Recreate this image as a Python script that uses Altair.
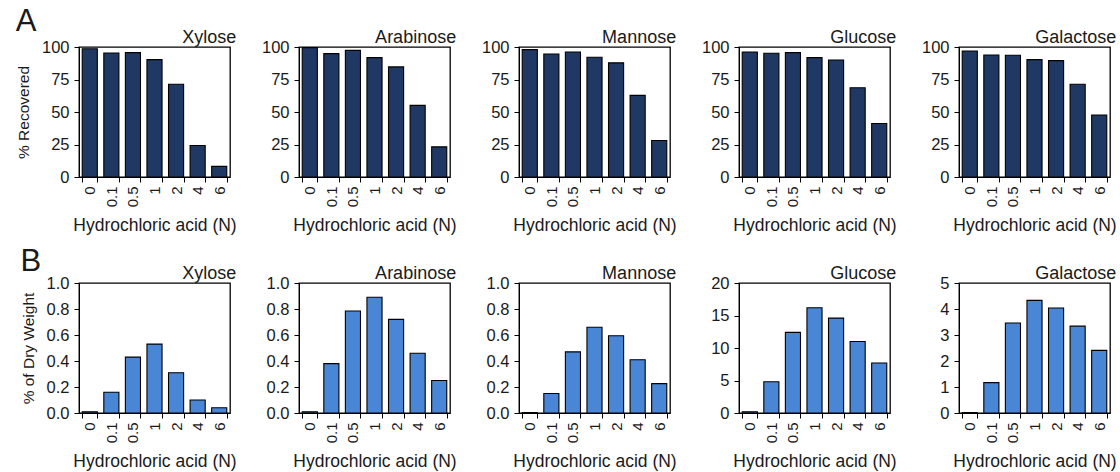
import altair as alt
import pandas as pd

# Hydrochloric acid concentrations (N) used for the hydrolysis series
ACID = ["0", "0.1", "0.5", "1", "2", "4", "6"]
SUGARS = ["Xylose", "Arabinose", "Mannose", "Glucose", "Galactose"]

# Panel A: % of each monosaccharide standard recovered after acid treatment
xylose_rec = [98.7, 95.4, 95.7, 90.3, 71.4, 24.2, 8.2]
arabinose_rec = [99.5, 94.9, 97.4, 91.8, 84.7, 55.1, 23.2]
mannose_rec = [98.0, 94.6, 96.2, 92.1, 87.8, 62.8, 28.1]
glucose_rec = [96.2, 95.2, 95.7, 91.8, 90.0, 68.6, 41.1]
galactose_rec = [96.9, 93.9, 93.6, 90.3, 89.5, 71.4, 47.7]

# Panel B: sugar released from biomass, % of dry weight
xylose_dw = [0.01, 0.16, 0.43, 0.53, 0.31, 0.10, 0.04]
arabinose_dw = [0.01, 0.38, 0.785, 0.89, 0.72, 0.46, 0.25]
mannose_dw = [0.003, 0.15, 0.47, 0.66, 0.594, 0.41, 0.226]
glucose_dw = [0.2, 4.8, 12.4, 16.2, 14.6, 11.0, 7.7]
galactose_dw = [0.02, 1.17, 3.46, 4.33, 4.04, 3.34, 2.41]

REC = [xylose_rec, arabinose_rec, mannose_rec, glucose_rec, galactose_rec]
DW = [xylose_dw, arabinose_dw, mannose_dw, glucose_dw, galactose_dw]

REC_TICKS = [0, 25, 50, 75, 100]
DW_TICKS = [
    [0, 0.2, 0.4, 0.6, 0.8, 1.0],
    [0, 0.2, 0.4, 0.6, 0.8, 1.0],
    [0, 0.2, 0.4, 0.6, 0.8, 1.0],
    [0, 5, 10, 15, 20],
    [0, 1, 2, 3, 4, 5],
]
DW_FORMAT = [".1f", ".1f", ".1f", "d", "d"]

NAVY = "#1f3864"
BLUE = "#4a86d6"
TEXT = "#1a1a1a"
W, H = 151, 130


def panel(name, values, ticks, fmt, color, ytitle=None):
    df = pd.DataFrame({"acid": ACID, "value": values})
    yaxis = dict(
        values=ticks, format=fmt, grid=False, tickSize=5, tickColor="black",
        domainColor="black", labelFontSize=16.5, labelColor=TEXT, labelPadding=5,
    )
    if ytitle:
        yaxis.update(title=ytitle, titleFontSize=15.5, titleFontWeight="normal",
                     titleColor=TEXT, titlePadding=10)
    else:
        yaxis.update(title=None)
    return alt.Chart(df).mark_bar(color=color, stroke="black", strokeWidth=1.1).encode(
        x=alt.X(
            "acid:N", sort=ACID,
            scale=alt.Scale(paddingInner=0.3, paddingOuter=0.15),
            axis=alt.Axis(
                title="Hydrochloric acid (N)", titleFontSize=17.5,
                titleFontWeight="normal", titleColor=TEXT, titlePadding=10,
                labelAngle=270, labelFontSize=15, labelColor=TEXT, labelPadding=4,
                tickBand="extent", tickSize=5, tickColor="black",
                domainColor="black",
            ),
        ),
        y=alt.Y("value:Q", scale=alt.Scale(domain=[0, ticks[-1]], nice=False),
                axis=alt.Axis(**yaxis)),
    ).properties(
        width=W, height=H,
        title=alt.TitleParams(name, anchor="end", fontSize=18, fontWeight="normal",
                              color=TEXT, offset=-8),
    )


def letter(text, offset):
    return alt.TitleParams(text, anchor="start", frame="bounds", fontSize=31,
                           fontWeight="normal", color=TEXT, offset=offset)


row_a = alt.hconcat(
    *[
        panel(s, REC[i], REC_TICKS, "d", NAVY,
              ytitle="% Recovered" if i == 0 else None)
        for i, s in enumerate(SUGARS)
    ],
    spacing=69, bounds="flush", title=letter("A", -10),
)
row_b = alt.hconcat(
    *[
        panel(s, DW[i], DW_TICKS[i], DW_FORMAT[i], BLUE,
              ytitle="% of Dry Weight" if i == 0 else None)
        for i, s in enumerate(SUGARS)
    ],
    spacing=69, bounds="flush", title=letter("B", -14),
)

chart = (
    alt.vconcat(row_a, row_b, spacing=10)
    .properties(padding={"left": 15, "top": 6, "right": 0, "bottom": 0})
    .configure(font="Liberation Sans", background="white")
    .configure_view(stroke="black", strokeWidth=1.3)
)

chart.save("out.html", embed_options={"renderer": "svg", "actions": False})
